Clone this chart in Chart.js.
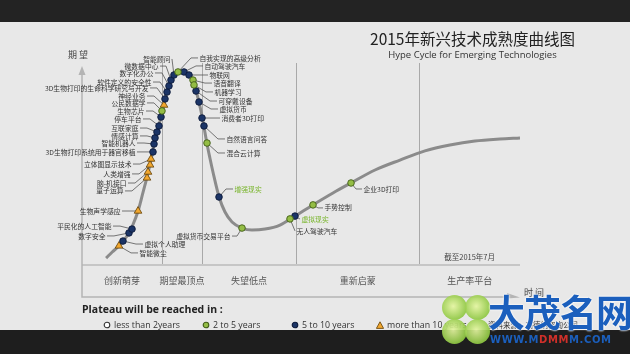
<!DOCTYPE html>
<html>
<head>
<meta charset="utf-8">
<script src="https://cdn.jsdelivr.net/npm/chart.js@4.4.1/dist/chart.umd.min.js"></script>
<style>
body{margin:0;width:630px;height:354px;background:#e8e8e8;overflow:hidden;position:relative;font-family:"Noto Sans CJK SC","Noto Sans",sans-serif}
#topBand{position:absolute;left:0;top:0;width:630px;height:22px;background:#232323}
#botBand{position:absolute;left:0;top:330px;width:630px;height:24px;background:#1e1e1e}
#wrap{position:absolute;left:0;top:0;width:630px;height:354px}
.t{position:absolute;white-space:nowrap}
#title{left:330px;width:285px;top:28px;text-align:center;font-size:15.5px;line-height:20px;color:#222}
#sub{left:330px;width:285px;top:48px;text-align:center;font:9.5px/13px "Open Sans",sans-serif;color:#333}
.axisName{font-size:9px;line-height:12px;color:#444}
#plateau{left:82px;top:302px;font:bold 10.5px/14px "Open Sans",sans-serif;color:#222}
.leg{top:319px;font:8.8px/12px "Open Sans",sans-serif;color:#333}
.leg svg{vertical-align:-1px;margin-right:3px}
#source{left:488px;top:320px;font-size:7.5px;line-height:10px;color:#333}
.leaf{position:absolute;width:25px;height:25px;border-radius:50%;opacity:0.92;background:radial-gradient(circle at 45% 45%,#e4f5a0,#8cc63f 72%)}
#wm{left:488px;top:290px;font-size:37px;line-height:42px;font-weight:bold;color:#1b5fbd;letter-spacing:-1px;text-shadow:0 0 2px #fff,0 0 2px #fff}
#wmUrl{left:490px;top:334px;font:bold 10px/12px "DejaVu Sans",sans-serif;color:#1b5fbd;letter-spacing:0.6px}
</style>
</head>
<body>
<div id="topBand"></div>
<div id="botBand"></div>
<div id="wrap"><canvas id="hype"></canvas></div>
<div class="t" id="title">2015年新兴技术成熟度曲线图</div>
<div class="t" id="sub">Hype Cycle for Emerging Technologies</div>
<div class="t axisName" style="left:68px;top:49px">期 望</div>
<div class="t axisName" style="left:524px;top:287px">时 间</div>
<div class="t" id="plateau">Plateau will be reached in :</div>
<div id="legend"></div>
<div class="t" id="source">资料来源：高德纳咨询公司</div>
<div class="leaf" style="left:442px;top:295px"></div>
<div class="leaf" style="left:465px;top:295px"></div>
<div class="leaf" style="left:442px;top:319px"></div>
<div class="leaf" style="left:465px;top:319px"></div>
<div class="t" id="wm">大茂名网</div>
<div class="t" id="wmUrl">WWW.M<span style="color:#d0302a">DMM</span>M.COM</div>
<script>
// 阶段 (time axis 0..100)
const phaseNames = ['创新萌芽','期望最顶点','失望低点','重新启蒙','生产率平台'];
const phaseEdges = [0, 18.3, 27.4, 48.9, 77.0, 100];

// Hype curve: time vs expectation (0..100)
const curveTime   = [5.5, 6.9, 8.45, 9.6, 10.7, 11.6, 12.8, 13.9, 14.8, 15.75, 16.7, 17.6, 18.5, 19.4, 20.3, 21.0, 22.0, 22.6, 23.3, 24.4, 25.3, 26.0, 26.7, 27.4, 27.85, 28.5, 29.2, 29.9, 31.3, 32.65, 34.25, 36.5, 38.8, 41.8, 45.2, 48.6, 52.7, 57.3, 61.4, 66.9, 72.6, 78.3, 84.0, 89.7, 95.4, 100];
const curveExpect = [3.4, 6.4, 9.4, 12.3, 15.8, 19.7, 26.6, 35.5, 42.9, 51.7, 62.6, 69.0, 77.8, 85.5, 91.0, 93.6, 95.2, 95.5, 95.2, 93.6, 91.1, 86.2, 80.3, 73.4, 68.0, 60.1, 52.7, 45.8, 33.5, 26.1, 21.2, 18.2, 17.2, 17.7, 19.7, 24.1, 29.6, 35.5, 40.4, 46.8, 51.7, 56.2, 59.1, 61.1, 62.1, 62.6];

// Technologies on the curve
const techNames = ['智能微尘','虚拟个人助理','数字安全','平民化的人工智能','生物声学感应','量子运算','脑-机接口','人类增强','立体图显示技术','3D生物打印系统用于器官移植','智能机器人','情感计算','互联家庭','停车平台','生物芯片','公民数据学','神经业务','3D生物打印的生命科学研究与开发','软件定义的安全性','数字化办公','微数据中心','智能顾问','自我实现的高级分析','自动驾驶汽车','物联网','语音翻译','机器学习','可穿戴设备','虚拟货币','消费者3D打印','自然语言问答','混合云计算','增强现实','虚拟货币交易平台','无人驾驶汽车','虚拟现实','手势控制','企业3D打印'];
const techTime   = [8.45, 9.36, 10.73, 11.42, 12.79, 14.84, 15.07, 15.53, 15.75, 16.21, 16.44, 16.67, 17.12, 17.58, 18.04, 18.26, 18.72, 18.95, 19.41, 19.86, 20.32, 21.0, 21.92, 23.29, 24.43, 25.34, 25.57, 26.03, 26.71, 27.4, 27.85, 28.54, 31.28, 36.53, 47.49, 48.63, 52.74, 61.42];
const techExpect = [9.4, 11.8, 15.8, 17.7, 26.6, 42.9, 45.8, 49.3, 52.2, 55.7, 59.6, 62.6, 65.5, 68.5, 72.9, 75.9, 78.8, 81.8, 85.2, 88.2, 91.1, 93.6, 95.1, 95.1, 93.6, 91.1, 88.7, 85.7, 80.3, 72.4, 68.5, 60.1, 33.5, 18.2, 22.7, 24.1, 29.6, 40.4];
// g = 2 to 5 years, n = 5 to 10 years, t = more than 10 years
const techYears = ['t','n','n','n','t','t','t','t','t','n','n','n','n','n','n','g','t','n','n','n','n','n','g','n','n','g','g','n','n','n','n','g','n','g','g','n','g','g'];
const highlighted = ['增强现实','虚拟现实'];
const legendItems = ['less than 2years','2 to 5 years','5 to 10 years','more than 10 years'];
const legendKeys = ['o','g','n','t'];

// layout: label offset from its marker, px (negative dx = label on left)
const labelOffset = [[19,7],[20,3],[-22,3],[-19,-3],[-16,0],[-22,13],[-20,11],[-18,9],[-18,5],[-16,0],[-17,-1],[-15,-2],[-17,-4],[-16,-7],[-15,-6],[-15,-8],[-17,-9],[-15,-11],[-14,-10],[-14,-13],[-11,-14],[-2,-16],[20,-14],[19,-6],[19,0],[19,3],[19,7],[21,10],[19,7],[18,0],[21,13],[18,10],[14,-8],[-10,8],[5,12],[5,3],[10,3],[11,6]];
const legendX = [103, 202, 291, 376];

const yearStyle = {
  o:{shape:'circle', r:3.0, bg:'#ffffff', border:'#333333'},
  g:{shape:'circle', r:3.3, bg:'#94bd45', border:'#3f5c17'},
  n:{shape:'circle', r:3.3, bg:'#1b3466', border:'#0c1a3a'},
  t:{shape:'triangle', r:4.4, bg:'#f2a72e', border:'#6e4b0e'}
};

// legend
const legEl = document.getElementById('legend');
legendItems.forEach((txt,i)=>{
  const s = yearStyle[legendKeys[i]];
  const sym = s.shape==='circle'
    ? `<circle cx="4" cy="4" r="2.8" fill="${s.bg}" stroke="${s.border}" stroke-width="1.1"/>`
    : `<polygon points="4,0.8 7.6,7.4 0.4,7.4" fill="${s.bg}" stroke="${s.border}" stroke-width="0.9"/>`;
  const d = document.createElement('div');
  d.className = 't leg'; d.style.left = legendX[i] + 'px';
  d.innerHTML = `<svg width="8" height="8">${sym}</svg>${txt}`;
  legEl.appendChild(d);
});

// 框架: dividers, axes, phase names
const framePlugin = {
  id:'frame',
  beforeDraw(chart){
    const {ctx, chartArea:a, scales:{x}} = chart;
    const base = a.bottom + 32;
    ctx.save();
    ctx.lineWidth = 1; ctx.strokeStyle = '#a9a9a9';
    phaseEdges.slice(1,-1).forEach(v=>{
      const px = Math.round(x.getPixelForValue(v)) + 0.5;
      ctx.beginPath(); ctx.moveTo(px, a.top + 1); ctx.lineTo(px, a.bottom); ctx.stroke();
    });
    ctx.strokeStyle = '#c6c6c6'; ctx.lineWidth = 2;
    ctx.beginPath(); ctx.moveTo(a.left, a.bottom); ctx.lineTo(a.right, a.bottom); ctx.stroke();
    ctx.strokeStyle = '#b4b4b4'; ctx.lineWidth = 1.5;
    ctx.beginPath(); ctx.moveTo(a.left, a.top + 10); ctx.lineTo(a.left, base); ctx.lineTo(a.right - 12, base); ctx.stroke();
    ctx.fillStyle = '#b4b4b4';
    ctx.beginPath(); ctx.moveTo(a.left, a.top + 4); ctx.lineTo(a.left - 3.5, a.top + 13); ctx.lineTo(a.left + 3.5, a.top + 13); ctx.closePath(); ctx.fill();
    ctx.beginPath(); ctx.moveTo(a.right, base + 0.5); ctx.lineTo(a.right - 13, base - 4); ctx.lineTo(a.right - 13, base + 1.5); ctx.closePath(); ctx.fill();
    ctx.fillStyle = '#555'; ctx.font = '9px "Noto Sans CJK SC"';
    ctx.textAlign = 'center'; ctx.textBaseline = 'middle';
    phaseNames.forEach((n,i)=>{
      ctx.fillText(n, x.getPixelForValue((phaseEdges[i] + phaseEdges[i+1]) / 2), a.bottom + 16);
    });
    ctx.fillStyle = '#444'; ctx.font = '7.5px "Noto Sans CJK SC"';
    ctx.fillText('截至2015年7月', x.getPixelForValue((phaseEdges[4] + phaseEdges[5]) / 2), a.bottom - 8);
    ctx.restore();
  }
};

function anchors(chart){
  const {x, y} = chart.scales;
  return techNames.map((n,i)=>{
    const mx = x.getPixelForValue(techTime[i]), my = y.getPixelForValue(techExpect[i]);
    const [dx, dy] = labelOffset[i];
    return {n, mx, my, lx: mx + dx, ly: my + dy, dir: dx < 0 ? -1 : 1, hl: Math.max(0, Math.min(7, Math.abs(dx) - 5))};
  });
}

// leader lines + labels
const labelPlugin = {
  id:'techLabels',
  beforeDatasetsDraw(chart){
    const ctx = chart.ctx;
    ctx.save(); ctx.strokeStyle = '#555'; ctx.lineWidth = 0.8;
    anchors(chart).forEach(p=>{
      ctx.beginPath(); ctx.moveTo(p.lx, p.ly); ctx.lineTo(p.lx - p.dir * p.hl, p.ly); ctx.lineTo(p.mx, p.my); ctx.stroke();
    });
    ctx.restore();
  },
  afterDatasetsDraw(chart){
    const ctx = chart.ctx;
    ctx.save(); ctx.font = '6.8px "Noto Sans CJK SC"'; ctx.textBaseline = 'middle';
    anchors(chart).forEach(p=>{
      ctx.fillStyle = highlighted.includes(p.n) ? '#79b52c' : '#333';
      ctx.textAlign = p.dir < 0 ? 'right' : 'left';
      ctx.fillText(p.n, p.lx + p.dir * 1.5, p.ly);
    });
    ctx.restore();
  }
};

const markerSets = ['g','n','t'].map(k=>{
  const s = yearStyle[k];
  return {
    type:'scatter', order:0, clip:false,
    data: techNames.map((n,i)=>({x:techTime[i], y:techExpect[i], k:techYears[i]})).filter(p=>p.k===k),
    pointStyle:s.shape, pointRadius:s.r, backgroundColor:s.bg, borderColor:s.border, borderWidth:0.9
  };
});

new Chart(document.getElementById('hype').getContext('2d'), {
  type:'scatter',
  data:{datasets:[
    ...markerSets,
    {type:'line', order:5, clip:false, data:curveTime.map((t,i)=>({x:t, y:curveExpect[i]})),
     borderColor:'#8b8b8b', borderWidth:3, pointRadius:0, fill:false, cubicInterpolationMode:'monotone'}
  ]},
  options:{
    responsive:true, maintainAspectRatio:false, animation:false, events:[],
    layout:{padding:{left:82, right:110, top:62, bottom:89}},
    plugins:{legend:{display:false}, tooltip:{enabled:false}},
    scales:{
      x:{type:'linear', min:0, max:100, display:false},
      y:{type:'linear', min:0, max:100, display:false}
    }
  },
  plugins:[framePlugin, labelPlugin]
});
</script>
</body>
</html>
